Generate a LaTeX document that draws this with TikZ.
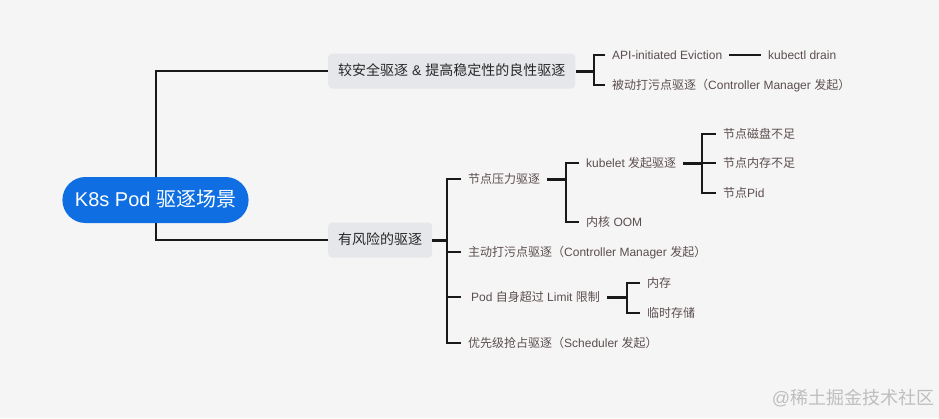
\documentclass[tikz,border=0pt]{standalone}
\usepackage{fontspec}
\setmainfont{Liberation Sans}
\newfontfamily\cjk{Noto Sans CJK SC}
\newcommand\zh[1]{{\cjk #1}}
\definecolor{bgc}{RGB}{245,245,245}
\definecolor{rootblue}{RGB}{14,110,226}
\definecolor{topicgray}{RGB}{229,231,234}
\definecolor{topictext}{RGB}{40,40,40}
\definecolor{leaftext}{RGB}{92,78,78}
\definecolor{linec}{RGB}{25,25,25}
\definecolor{wmark}{RGB}{190,190,190}
\tikzset{
  rootnode/.style={fill=rootblue, text=white, rounded corners=23pt, minimum height=46pt,
    inner xsep=12.5pt, inner ysep=0pt, text height=15pt, text depth=3pt,
    font=\fontsize{20}{24}\selectfont},
  topic/.style={fill=topicgray, text=topictext, rounded corners=4pt, minimum height=35pt,
    inner xsep=10pt, inner ysep=0pt, anchor=west, text height=11.5pt, text depth=2pt,
    font=\fontsize{14}{17}\selectfont},
  leaf/.style={text=leaftext, anchor=west, inner xsep=7pt, inner ysep=0pt,
    text height=10pt, text depth=1.5pt, font=\fontsize{12}{14}\selectfont},
  conn/.style={line width=2pt, draw=linec},
  stub/.style={line width=3pt, draw=linec},
}
\begin{document}
\begin{tikzpicture}[x=1pt,y=-1pt]
\fill[bgc] (0,0) rectangle (939,418);
\useasboundingbox (0,0) rectangle (939,418);

% root and topics
\node[rootnode] (root) at (155.5,200) {K8s Pod \zh{驱逐场景}};
\node[topic] (n1) at (328,71) {\zh{较安全驱逐} \& \zh{提高稳定性的良性驱逐}};
\node[topic] (n2) at (328,240) {\zh{有风险的驱逐}};

% branch 1 leaves
\node[leaf] (a1) at (605,55) {API-initiated Eviction};
\node[leaf] (a1b) at (761,55) {kubectl drain};
\node[leaf] (a2) at (605,85) {\zh{被动打污点驱逐（}Controller Manager \zh{发起）}};

% branch 2 leaves
\node[leaf] (b1) at (461,179) {\zh{节点压力驱逐}};
\node[leaf] (b2) at (461,252) {\zh{主动打污点驱逐（}Controller Manager \zh{发起）}};
\node[leaf] (b3) at (461,297) {\hspace*{3pt}Pod \zh{自身超过} Limit \zh{限制}};
\node[leaf] (b4) at (461,343) {\zh{优先级抢占驱逐（}Scheduler \zh{发起）}};

\node[leaf] (c1) at (579,163) {kubelet \zh{发起驱逐}};
\node[leaf] (c2) at (579,222) {\zh{内核} OOM};

\node[leaf] (d1) at (716,134) {\zh{节点磁盘不足}};
\node[leaf] (d2) at (716,163) {\zh{节点内存不足}};
\node[leaf] (d3) at (716,193) {\zh{节点}Pid};

\node[leaf] (e1) at (640,283) {\zh{内存}};
\node[leaf] (e2) at (640,313) {\zh{临时存储}};

% connectors
\draw[conn] (root.north) |- (n1.west);
\draw[conn] (root.south) |- (n2.west);

\draw[stub] (n1.east) -- ++(18,0) coordinate (j1);
\draw[conn] (a1.west) -| (j1) |- (a2.west);
\draw[conn] (a1.east) -- (a1b.west);

\draw[stub] (n2.east) -- ++(15,0) coordinate (j2);
\draw[conn] (b1.west) -| (j2) |- (b4.west);
\draw[conn] (j2 |- b2.west) -- (b2.west);
\draw[conn] (j2 |- b3.west) -- (b3.west);

\draw[stub] (b1.east) -- ++(19,0) coordinate (j3);
\draw[conn] (c1.west) -| (j3) |- (c2.west);

\draw[stub] (c1.east) -- ++(19,0) coordinate (j4);
\draw[conn] (d1.west) -| (j4) |- (d3.west);
\draw[conn] (j4) -- (d2.west);

\draw[stub] (b3.east) -- ++(20,0) coordinate (j5);
\draw[conn] (e1.west) -| (j5) |- (e2.west);

% watermark
\node[text=wmark, font=\fontsize{18}{20}\selectfont, inner sep=0pt] (wm) at (853,398) {@\zh{稀土掘金技术社区}};
\end{tikzpicture}
\end{document}
